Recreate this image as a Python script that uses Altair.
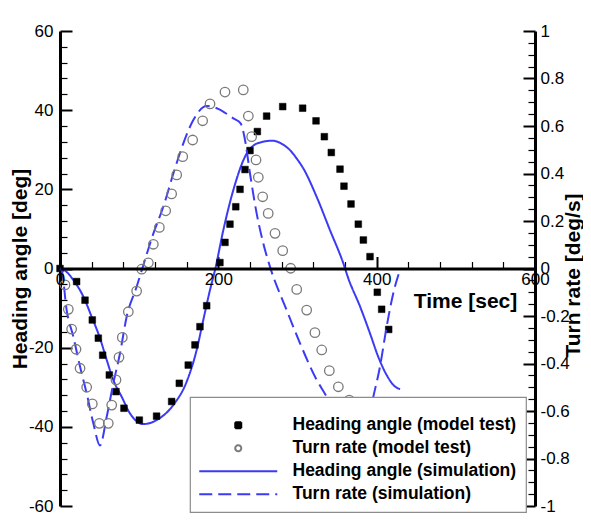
import altair as alt
import pandas as pd

# ---------------- data ----------------
SERIES = ["Heading angle (model test)", "Turn rate (model test)",
          "Heading angle (simulation)", "Turn rate (simulation)"]

# Heading angle (model test) [deg]
hm_t = [0, 21, 31.6, 40.8, 48.4, 53.9, 62.3, 70.7, 80.8, 100.2, 122, 141, 150.7, 162,
        170.5, 176.8, 185.3, 202, 208.4, 214.7, 222, 227.4, 233.7, 240, 249.3, 261,
        281.3, 306.5, 323.4, 333.9, 342.7, 353.7, 358.7, 367.6, 376.8, 383.2, 391.6,
        400.8, 406.3, 415.2]
hm_v = [0, -3.3, -8, -13, -17.6, -21.9, -26.9, -31.1, -35.3, -38.3, -37.3, -33.6, -29,
        -24.4, -19.3, -14.7, -9.4, 1.5, 6.6, 11.2, 15.6, 20, 25, 29.8, 34.6, 38.5, 40.9,
        40.5, 37.3, 33.3, 29.3, 25.1, 20.8, 16.3, 11.2, 7.2, 3, -6, -10.3, -15.4]

# Turn rate (model test) [deg/s]
rm_t = [6.3, 10.5, 14.7, 20.2, 25.3, 33.7, 40.8, 49.7, 61, 65.3, 70.7, 74.5, 78.7, 86.3,
        96.8, 103.2, 111.6, 117.9, 125.5, 133.5, 141, 147.4, 155, 167.6, 180.2, 189.5,
        208.4, 231.5, 237.9, 242.1, 247.6, 250.5, 256, 263, 271.6, 281.3, 291.4, 299,
        311.6, 322, 330.6, 340.2, 351.6, 365.4]
rm_v = [-0.069, -0.172, -0.255, -0.34, -0.42, -0.50, -0.57, -0.652, -0.652, -0.575,
        -0.469, -0.374, -0.29, -0.182, -0.095, -0.003, 0.024, 0.102, 0.173, 0.243, 0.314,
        0.394, 0.471, 0.541, 0.622, 0.693, 0.743, 0.752, 0.642, 0.555, 0.457, 0.384,
        0.302, 0.232, 0.148, 0.075, 0.001, -0.088, -0.175, -0.27, -0.343, -0.43,
        -0.498, -0.554]

# Heading angle (simulation) [deg]
hs_t = [0, 8, 16.8, 29.5, 40, 50.5, 59, 67.4, 77.9, 88.4, 105.3, 122, 143, 160, 172.6,
        181, 189.5, 195.8, 206.3, 218.9, 236, 244, 256, 268.6, 280, 290.5, 300, 307.3,
        324.2, 341, 357.9, 364.2, 379, 391.6, 402, 412.6, 421, 429.5]
hs_v = [0, -0.8, -2.9, -7.1, -12.2, -17.6, -23.1, -28.2, -32.4, -36.6, -39.3, -38.3,
        -34.5, -28.6, -20.6, -13, -5.4, -0.4, 9.7, 19.8, 29.1, 31.0, 32.0, 32.3, 31.5,
        29.9, 27.5, 25.3, 18.1, 9.7, 1.3, -2.5, -9.6, -16.4, -22.3, -26.9, -29.4, -30.5]

# Turn rate (simulation) [deg/s]
rs_t = [0, 2, 8.4, 16.8, 25.3, 33.7, 42.1, 50.5, 59, 67.4, 75.8, 84.2, 96.8, 105.3, 118,
        130.5, 143.2, 155.8, 168.4, 185.3, 197.9, 218.9, 228.2, 233.7, 240, 248.4, 256.8,
        265.2, 286.3, 303.2, 324.2, 336.8, 350, 362, 372, 382, 390, 395.8, 404.2, 412.6,
        421, 429.5]
rs_v = [0, -0.006, -0.175, -0.287, -0.413, -0.526, -0.652, -0.745, -0.624, -0.483,
        -0.357, -0.203, -0.077, 0.015, 0.148, 0.26, 0.40, 0.527, 0.625, 0.684, 0.675,
        0.632, 0.611, 0.541, 0.40, 0.232, 0.106, 0.008, -0.175, -0.315, -0.469, -0.54,
        -0.63, -0.70, -0.72, -0.70, -0.63, -0.54, -0.413, -0.245, -0.104, -0.006]

X_MAJOR = [0, 200, 400, 600]
X_MINOR = [40, 80, 120, 160, 240, 280, 320, 360, 440, 480, 520, 560]
H_MAJOR = [-60, -40, -20, 0, 20, 40, 60]
H_MINOR = [v for v in range(-60, 61, 4) if v % 20 != 0]
R_MAJOR = [-1, -0.8, -0.6, -0.4, -0.2, 0, 0.2, 0.4, 0.6, 0.8, 1]
R_MINOR = [round(-1 + 0.05 * i, 2) for i in range(41) if i % 4 != 0]

# ---------------- styling ----------------
FONT = "Liberation Sans"
BLUE = "#3b3bf6"
W = H = 475
HALF = H / 2.0


def frame(t, v, s):
    return pd.DataFrame({"t": t, "v": v, "series": s})


df_hm = frame(hm_t, hm_v, SERIES[0])
df_rm = frame(rm_t, rm_v, SERIES[1])
df_hs = frame(hs_t, hs_v, SERIES[2])
df_rs = frame(rs_t, rs_v, SERIES[3])

LINE_SYM = "M-13,0L13,0"
shape_scale = alt.Scale(domain=SERIES, range=["square", "circle", LINE_SYM, LINE_SYM])
fill_scale = alt.Scale(domain=SERIES, range=["black", "transparent", "transparent", "transparent"])
stroke_scale = alt.Scale(domain=SERIES, range=["black", "#7a7a7a", BLUE, BLUE])
dash_scale = alt.Scale(domain=SERIES, range=[[1, 0], [1, 0], [1, 0], [13, 6]])


def L():
    return alt.Legend(title=" ", direction="vertical", zindex=1)


x_scale = alt.Scale(domain=[0, 600], nice=False, zero=False)
h_scale = alt.Scale(domain=[-60, 60], nice=False, zero=False)
r_scale = alt.Scale(domain=[-1, 1], nice=False, zero=False)

lab = dict(labelFont=FONT, labelFontSize=17, labelColor="black", labelExpr="toString(datum.value)",
           labelFlush=False, labelOverlap=False, grid=False,
           titleFont=FONT, titleFontSize=21, titleFontWeight="bold", titleColor="black",
           domain=True, domainColor="black", domainWidth=3, ticks=False, tickSize=0)
tk = dict(labels=False, domain=False, ticks=True, tickColor="black", grid=False, title=None)

x_lab = alt.Axis(orient="bottom", offset=-HALF, values=X_MAJOR, labelPadding=3,
                 title="Time [sec]", titleX=405, titleY=38.5, titleAlign="center",
                 titleBaseline="alphabetic", titleAngle=0, zindex=1, **lab)
x_maj = alt.Axis(orient="top", offset=-HALF, values=X_MAJOR, tickSize=12, tickWidth=2, **tk)
x_min = alt.Axis(orient="top", offset=-HALF, values=X_MINOR, tickSize=7, tickWidth=1.2, **tk)

h_lab = alt.Axis(orient="left", values=H_MAJOR, labelPadding=7, title="Heading angle [deg]",
                 titleX=-34, titleY=HALF, titleAngle=270, titleAlign="center",
                 titleBaseline="alphabetic", **lab)
h_maj = alt.Axis(orient="right", offset=-W, values=H_MAJOR, tickSize=12, tickWidth=2, **tk)
h_min = alt.Axis(orient="right", offset=-W, values=H_MINOR, tickSize=7, tickWidth=1.2, **tk)

r_lab = alt.Axis(orient="right", values=R_MAJOR, labelPadding=5, title="Turn rate [deg/s]",
                 titleX=44, titleY=244, titleAngle=270, titleAlign="center",
                 titleBaseline="alphabetic", **lab)
r_maj = alt.Axis(orient="left", offset=-W, values=R_MAJOR, tickSize=12, tickWidth=2, **tk)
r_min = alt.Axis(orient="left", offset=-W, values=R_MINOR, tickSize=7, tickWidth=1.2, **tk)

# ---------------- heading layer ----------------
line_h = alt.Chart(df_hs).mark_line(strokeWidth=2, interpolate="monotone").encode(
    x=alt.X("t:Q", scale=x_scale, axis=x_maj),
    y=alt.Y("v:Q", scale=h_scale, axis=h_maj),
    stroke=alt.Stroke("series:N", scale=stroke_scale, legend=L()),
    strokeDash=alt.StrokeDash("series:N", scale=dash_scale, legend=L()),
)
sq = alt.Chart(df_hm).mark_point(opacity=1, size=45, strokeWidth=0.5).encode(
    x=alt.X("t:Q", scale=x_scale, axis=x_lab),
    y=alt.Y("v:Q", scale=h_scale, axis=h_lab),
    shape=alt.Shape("series:N", scale=shape_scale, legend=L()),
    fill=alt.Fill("series:N", scale=fill_scale, legend=L()),
    stroke=alt.Stroke("series:N", scale=stroke_scale, legend=L()),
)
dummy_h = alt.Chart(df_hs).mark_point(opacity=0, size=1).encode(
    x=alt.X("t:Q", scale=x_scale, axis=x_min),
    y=alt.Y("v:Q", scale=h_scale, axis=h_min),
)
heading = alt.layer(line_h, sq, dummy_h).resolve_axis(x="independent", y="independent")

# ---------------- turn-rate layer ----------------
line_r = alt.Chart(df_rs).mark_line(strokeWidth=2, interpolate="monotone").encode(
    x=alt.X("t:Q", scale=x_scale, axis=None),
    y=alt.Y("v:Q", scale=r_scale, axis=r_maj),
    stroke=alt.Stroke("series:N", scale=stroke_scale, legend=L()),
    strokeDash=alt.StrokeDash("series:N", scale=dash_scale, legend=L()),
)
circ = alt.Chart(df_rm).mark_point(opacity=1, size=90, strokeWidth=1.3).encode(
    x=alt.X("t:Q", scale=x_scale, axis=None),
    y=alt.Y("v:Q", scale=r_scale, axis=r_lab),
    shape=alt.Shape("series:N", scale=shape_scale, legend=L()),
    fill=alt.Fill("series:N", scale=fill_scale, legend=L()),
    stroke=alt.Stroke("series:N", scale=stroke_scale, legend=L()),
)
dummy_r = alt.Chart(df_rs).mark_point(opacity=0, size=1).encode(
    x=alt.X("t:Q", scale=x_scale, axis=None),
    y=alt.Y("v:Q", scale=r_scale, axis=r_min),
)
turn = alt.layer(line_r, circ, dummy_r).resolve_axis(y="independent")

chart = (
    alt.layer(heading, turn)
    .resolve_scale(y="independent")
    .resolve_axis(x="independent", y="independent")
    .properties(width=W, height=H,
                padding={"left": 52, "top": 23, "right": 48, "bottom": 14},
                autosize=alt.AutoSizeParams(type="none"))
    .configure_view(stroke="transparent")
    .configure_legend(orient="none", legendX=130, legendY=366, fillColor="white",
                      strokeColor="#8c8c8c", strokeWidth=1.2, padding=9, cornerRadius=0,
                      labelFont=FONT, labelFontSize=17.5, labelFontWeight="bold",
                      labelColor="black", labelLimit=400, labelOffset=45.5,
                      symbolOffset=30.5, symbolSize=36, symbolStrokeWidth=2,
                      symbolFillColor="transparent", symbolStrokeColor="black",
                      rowPadding=4, titleFontSize=8, titlePadding=2.5)
)

chart.save("out.html", embed_options={"renderer": "svg", "actions": False})
